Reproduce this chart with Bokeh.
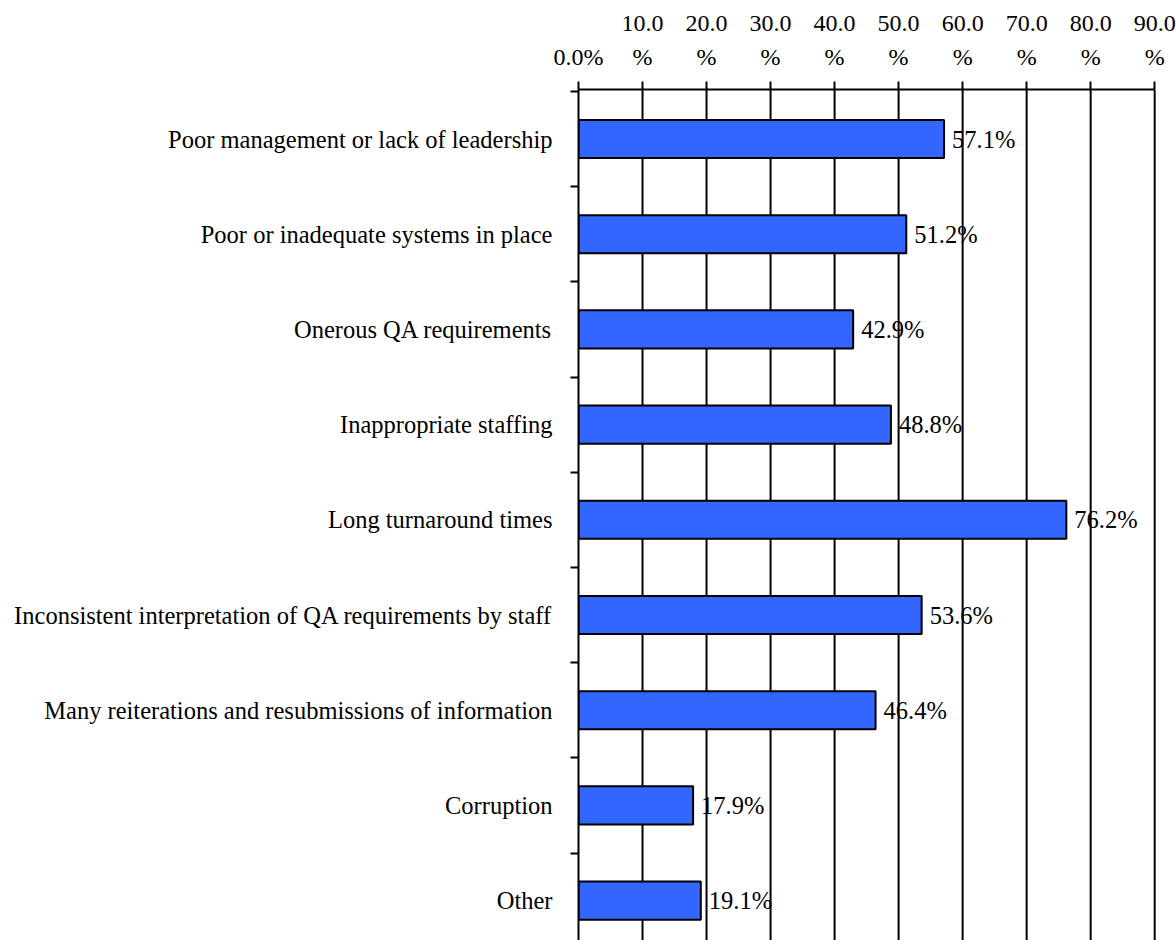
from bokeh.plotting import figure
from bokeh.models import ColumnDataSource, FixedTicker, Range1d, LabelSet
from bokeh.embed import file_html
from bokeh.resources import INLINE

# Survey responses: share of respondents naming each challenge
categories = [
    "Poor management or lack of leadership",
    "Poor or inadequate systems in place",
    "Onerous QA requirements",
    "Inappropriate staffing",
    "Long turnaround times",
    "Inconsistent interpretation of QA requirements by staff",
    "Many reiterations and resubmissions of information",
    "Corruption",
    "Other",
]
percentages = [57.1, 51.2, 42.9, 48.8, 76.2, 53.6, 46.4, 17.9, 19.1]

x_ticks = [0, 10, 20, 30, 40, 50, 60, 70, 80, 90]
x_tick_labels = ["0.0%", "10.0\n%", "20.0\n%", "30.0\n%", "40.0\n%",
                 "50.0\n%", "60.0\n%", "70.0\n%", "80.0\n%", "90.0\n%"]

FONT = "Liberation Serif"
BAR_BLUE = "#3366FF"

positions = list(range(len(categories)))
source = ColumnDataSource(dict(
    y=positions,
    value=percentages,
    label=[f"{v:.1f}%" for v in percentages],
))
# grid lines drawn as glyphs so the closing one at 90% is kept
grid_src = ColumnDataSource(dict(x=x_ticks[1:]))

W, H = 1176, 940
px_per_pct = 6.4          # 64 px for every 10 %
band_px = 95.2            # height of one category band
left, top, bottom = 578, 89, 0
x_end = 92.0              # room past 90 for the closing line
right = W - left - round(x_end * px_per_pct)
frame_h = H - top - bottom
y_end = -0.52             # a little past the top boundary tick
y_start = y_end + frame_h / band_px

p = figure(
    width=W, height=H,
    x_range=Range1d(0, x_end),
    y_range=Range1d(y_start, y_end),
    x_axis_location="above",
    output_backend="svg",
    toolbar_location=None,
    min_border_left=left, min_border_right=right,
    min_border_top=top, min_border_bottom=bottom,
)
p.outline_line_color = None
p.background_fill_color = "white"
p.border_fill_color = "white"
p.xgrid.grid_line_color = None
p.ygrid.grid_line_color = None

# Vertical grid lines at every 10%
p.segment(x0="x", x1="x", y0=y_start, y1=y_end, source=grid_src,
          line_color="black", line_width=2)

# Bars
p.hbar(y="y", left=0, right="value", height=0.4, source=source,
       fill_color=BAR_BLUE, line_color="black", line_width=2)

# Value labels to the right of each bar
labels = LabelSet(x="value", y="y", text="label", source=source,
                  x_offset=8, text_baseline="middle", text_align="left",
                  text_font=FONT, text_font_size="24.5px", text_color="black")
p.add_layout(labels)

# Top percentage axis
xa = p.xaxis[0]
xa.ticker = FixedTicker(ticks=x_ticks)
xa.major_label_overrides = {t: lab for t, lab in zip(x_ticks, x_tick_labels)}
xa.bounds = (0, 90)
xa.axis_line_width = 2
xa.major_tick_line_width = 2
xa.major_tick_in = 0
xa.major_tick_out = 8
xa.minor_tick_line_color = None
xa.major_label_standoff = 12
xa.major_label_text_font = FONT
xa.major_label_text_font_size = "24px"
xa.major_label_text_color = "black"
xa.major_label_text_line_height = 1.3

# Category axis: labels at bar centres, ticks at band boundaries
ya = p.yaxis[0]
ya.ticker = FixedTicker(ticks=positions,
                        minor_ticks=[i - 0.5 for i in positions])
ya.major_label_overrides = {i: c for i, c in zip(positions, categories)}
ya.axis_line_width = 2
ya.major_tick_line_color = None
ya.major_tick_in = 0
ya.major_tick_out = 0
ya.minor_tick_line_width = 2
ya.minor_tick_line_color = "black"
ya.minor_tick_in = 0
ya.minor_tick_out = 8
ya.major_label_standoff = 18
ya.major_label_text_font = FONT
ya.major_label_text_font_size = "24.5px"
ya.major_label_text_color = "black"

open("out.html", "w").write(file_html(p, INLINE))
